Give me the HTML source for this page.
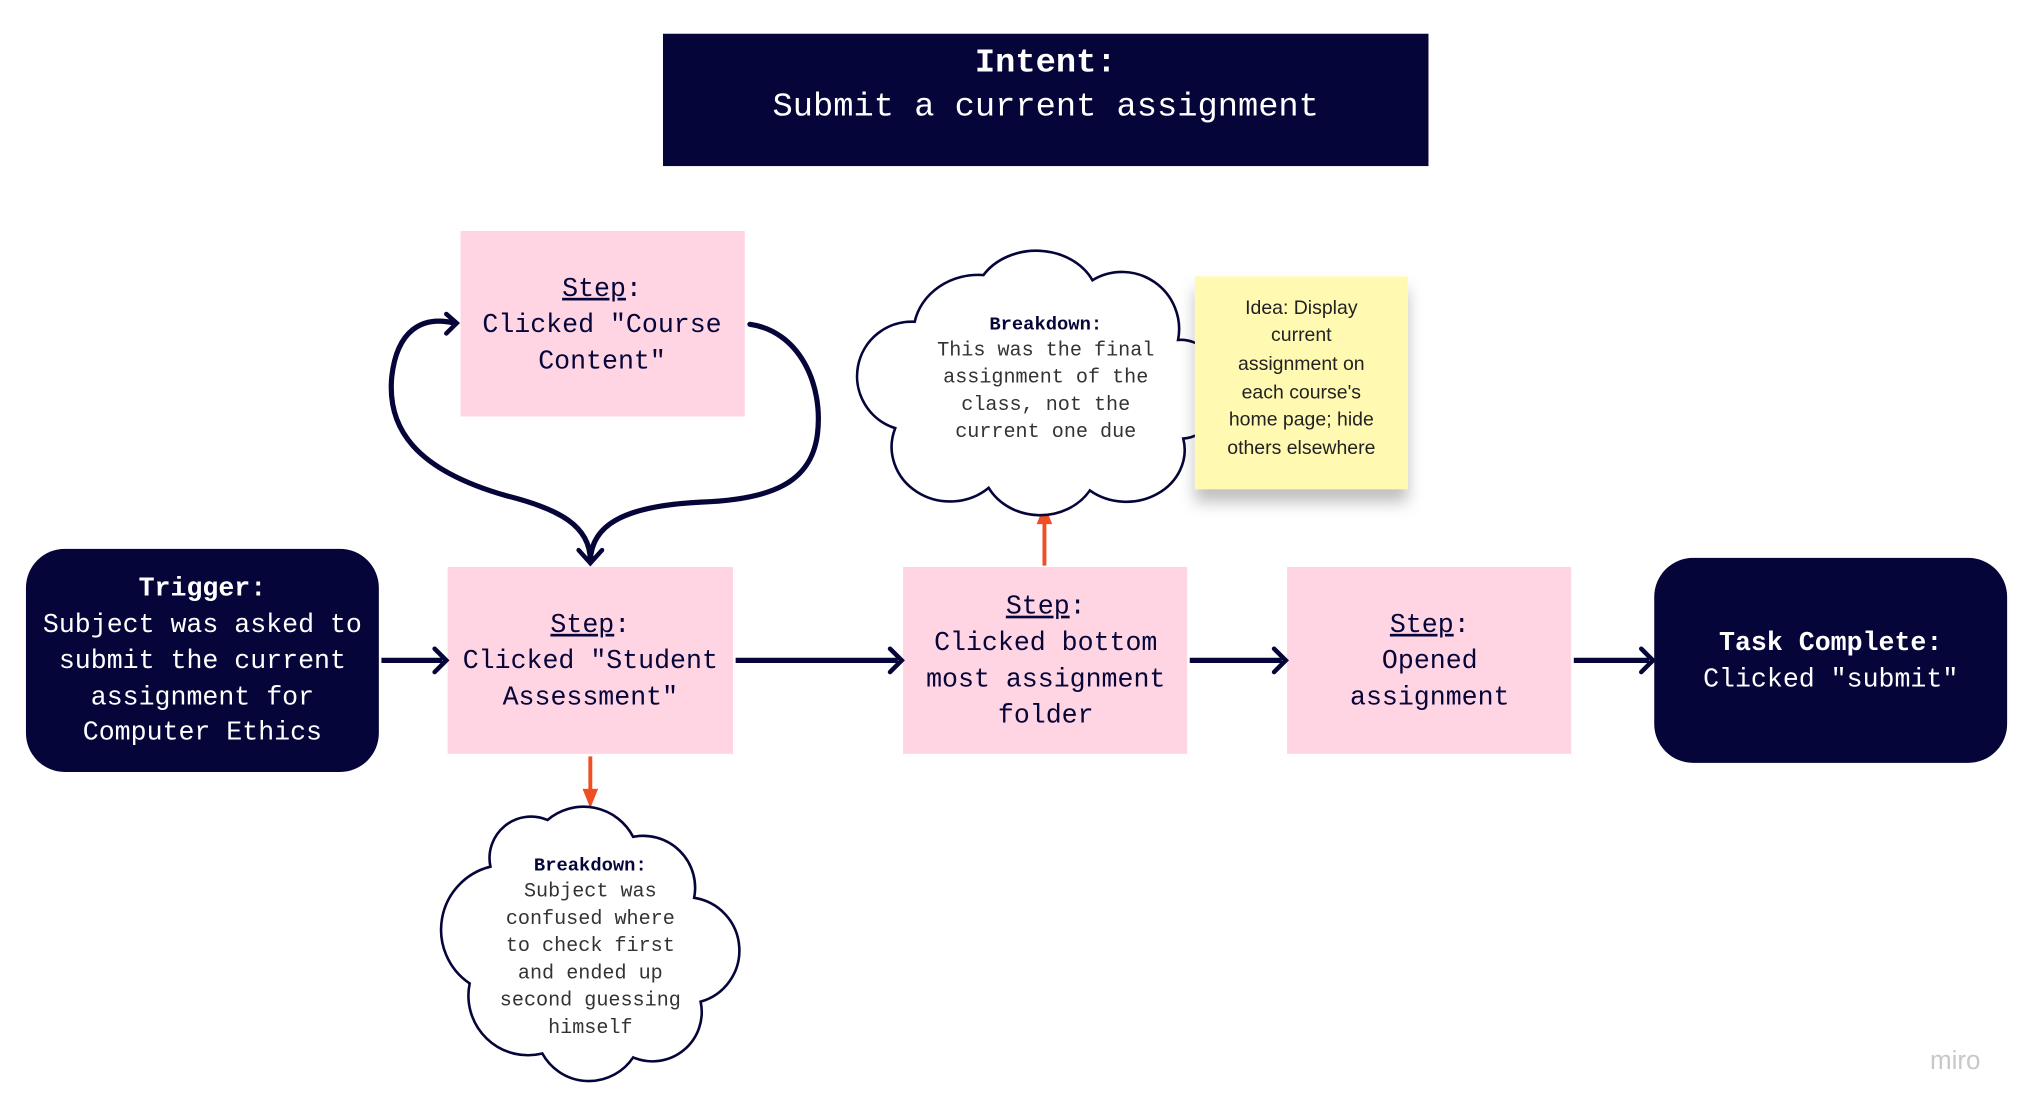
<!DOCTYPE html>
<html><head><meta charset="utf-8"><style>
html,body{margin:0;padding:0;background:#fff;}
svg{display:block;}
.m{font-family:"Liberation Mono",monospace;}
.s{font-family:"Liberation Sans",sans-serif;}
</style></head><body>
<svg width="2024" height="1111" viewBox="0 0 1560 856.3" preserveAspectRatio="none" xmlns="http://www.w3.org/2000/svg">
<defs>
<filter id="sh" x="-20%" y="-20%" width="140%" height="160%"><feDropShadow dx="0" dy="10" stdDeviation="6" flood-color="#000" flood-opacity="0.25"/></filter>
</defs>
<rect width="1560" height="857" fill="#fff"/>
<!-- Intent -->
<rect x="511" y="26" width="590" height="102" fill="#05053a"/>
<text x="806" y="55" text-anchor="middle" class="m" font-size="26" font-weight="bold" fill="#fff">Intent:</text>
<text x="806" y="89" text-anchor="middle" class="m" font-size="26" fill="#fff">Submit a current assignment</text>

<!-- loop -->
<g fill="none" stroke="#05053a" stroke-width="4" stroke-linecap="round">
<path d="M455,432 C455,405 430,392 390,382 C320,362 298,330 302,290 C306,255 325,243 350,249"/>
<path d="M578,250 C615,255 635,295 630,335 C625,372 595,385 540,387 C480,390 456,405 455,432"/>
<path d="M344,242 L352,249 L344,257" stroke-width="3.5"/>
<path d="M446,424 L455,434 L464,424" stroke-width="3.5"/>
</g>

<!-- Step course -->
<rect x="355" y="178" width="219" height="143" fill="#ffd5e3"/>
<g class="m" font-size="20.5" fill="#05053a" text-anchor="middle">
<text x="464" y="228"><tspan text-decoration="underline">Step</tspan>:</text>
<text x="464" y="256">Clicked "Course</text>
<text x="464" y="284">Content"</text>
</g>

<!-- Trigger -->
<rect x="20" y="423" width="272" height="172" rx="30" fill="#05053a"/>
<g class="m" font-size="20.5" fill="#fff" text-anchor="middle">
<text x="156" y="459" font-weight="bold">Trigger:</text>
<text x="156" y="487">Subject was asked to</text>
<text x="156" y="515">submit the current</text>
<text x="156" y="543">assignment for</text>
<text x="156" y="570">Computer Ethics</text>
</g>

<!-- steps -->
<rect x="345" y="437" width="220" height="144" fill="#ffd5e3"/>
<rect x="696" y="437" width="219" height="144" fill="#ffd5e3"/>
<rect x="992" y="437" width="219" height="144" fill="#ffd5e3"/>
<g class="m" font-size="20.5" fill="#05053a" text-anchor="middle">
<text x="455" y="487"><tspan text-decoration="underline">Step</tspan>:</text>
<text x="455" y="515">Clicked "Student</text>
<text x="455" y="543">Assessment"</text>
<text x="806" y="473"><tspan text-decoration="underline">Step</tspan>:</text>
<text x="806" y="501">Clicked bottom</text>
<text x="806" y="529">most assignment</text>
<text x="806" y="557">folder</text>
<text x="1102" y="487"><tspan text-decoration="underline">Step</tspan>:</text>
<text x="1102" y="515">Opened</text>
<text x="1102" y="543">assignment</text>
</g>

<!-- Task complete -->
<rect x="1275" y="430" width="272" height="158" rx="30" fill="#05053a"/>
<g class="m" font-size="20.5" fill="#fff" text-anchor="middle">
<text x="1411" y="501" font-weight="bold">Task Complete:</text>
<text x="1411" y="529">Clicked "submit"</text>
</g>

<!-- arrows -->
<g fill="none" stroke="#05053a" stroke-width="4">
<line x1="294" y1="509" x2="341" y2="509"/>
<line x1="567" y1="509" x2="692" y2="509"/>
<line x1="917" y1="509" x2="988" y2="509"/>
<line x1="1213" y1="509" x2="1271" y2="509"/>
<g stroke-width="3.5" stroke-linecap="round">
<path d="M335,500 L344,509 L335,518"/>
<path d="M686,500 L695,509 L686,518"/>
<path d="M982,500 L991,509 L982,518"/>
<path d="M1265,500 L1274,509 L1265,518"/>
</g>
</g>

<!-- red arrows -->
<line x1="455" y1="583" x2="455" y2="610" stroke="#f04e23" stroke-width="3"/>
<path d="M449,608 L455,623 L461,608 Z" fill="#f04e23"/>
<line x1="805" y1="436" x2="805" y2="402" stroke="#f04e23" stroke-width="3"/>
<path d="M799,404 L805,389 L811,404 Z" fill="#f04e23"/>

<!-- cloud 1 -->
<path d="M705,248 A50,45 0 0 1 758,212 A48,40 0 0 1 842,216 A44,44 0 0 1 908,262 A30,35 0 0 1 912,338 A45,40 0 0 1 840,378 A45,40 0 0 1 762,376 A45,42 0 0 1 690,330 A42,42 0 0 1 705,248 Z" fill="#fff" stroke="#05053a" stroke-width="2"/>
<g class="m" font-size="15.5" fill="#333" text-anchor="middle">
<text x="806" y="254" font-weight="bold" font-size="14.5" fill="#05053a">Breakdown:</text>
<text x="806" y="274">This was the final</text>
<text x="806" y="295">assignment of the</text>
<text x="806" y="316">class, not the</text>
<text x="806" y="337">current one due</text>
</g>

<!-- sticky -->
<rect x="921" y="213" width="164" height="164" fill="#fff9b1" filter="url(#sh)"/>
<g class="s" font-size="15" fill="#222" text-anchor="middle">
<text x="1003" y="242">Idea: Display</text>
<text x="1003" y="263">current</text>
<text x="1003" y="285">assignment on</text>
<text x="1003" y="307">each course's</text>
<text x="1003" y="328">home page; hide</text>
<text x="1003" y="350">others elsewhere</text>
</g>

<!-- cloud 2 -->
<path d="M378,668 A32,32 0 0 1 422,632 A43,43 0 0 1 488,645 A40,40 0 0 1 535,692 A41,41 0 0 1 540,772 A38,38 0 0 1 488,815 A41,41 0 0 1 418,812 A46,46 0 0 1 362,758 A50,50 0 0 1 378,668 Z" fill="#fff" stroke="#05053a" stroke-width="2"/>
<g class="m" font-size="15.5" fill="#333" text-anchor="middle">
<text x="455" y="671" font-weight="bold" font-size="14.5" fill="#05053a">Breakdown:</text>
<text x="455" y="691">Subject was</text>
<text x="455" y="712">confused where</text>
<text x="455" y="733">to check first</text>
<text x="455" y="754">and ended up</text>
<text x="455" y="775">second guessing</text>
<text x="455" y="796">himself</text>
</g>

<text x="1507" y="824" text-anchor="middle" class="s" font-size="20" fill="#c8c8cc">miro</text>
</svg>
</body></html>
